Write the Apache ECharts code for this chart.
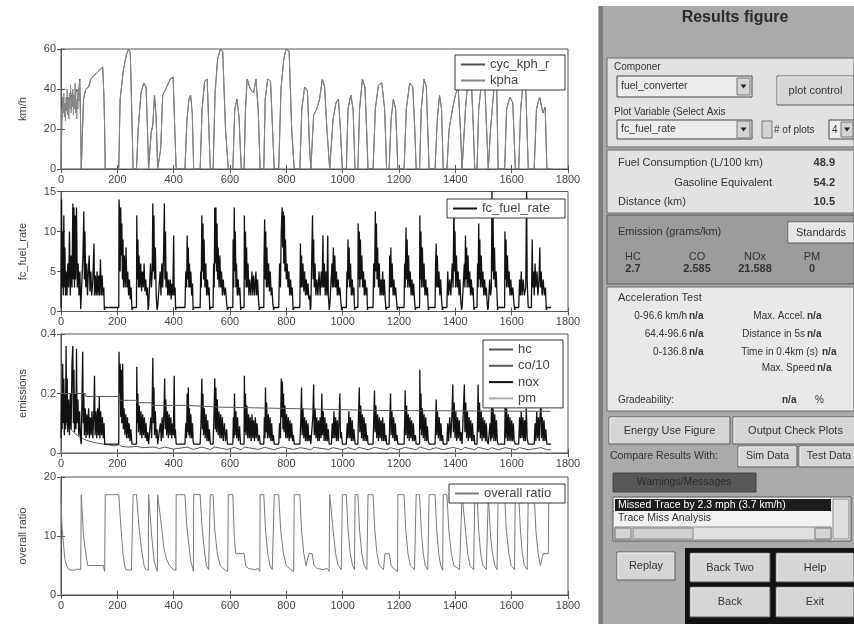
<!DOCTYPE html>
<html><head><meta charset="utf-8">
<script src="https://cdn.jsdelivr.net/npm/echarts@6/dist/echarts.min.js"></script>
<style>html,body{margin:0;padding:0;background:#fff}#c{width:854px;height:624px}</style>
</head><body><div id="c"></div>
<script>
// ---------------- data ----------------
const yNames = ['km/h', 'fc_fuel_rate', 'emissions', 'overall ratio'];
const yMaxes = [60, 15, 0.4, 20];
const yIntervals = [20, 5, 0.2, 10];
const xMax = 1800, xInterval = 200;

const cycKph = [[0,0],[4,28],[10,33],[16,30],[24,36],[32,34],[40,38],[48,35],[56,40],[62,38],[67,45],[70,20],[72,0],
[76,0],[80,35],[88,40],[98,41],[106,45],[118,47],[128,48],[140,50],[148,51],[152,38],[155,20],[157,0],
[205,0],[210,35],[222,50],[232,57],[240,60],[246,58],[251,30],[256,0],
[268,0],[274,20],[284,38],[294,43],[302,41],[307,20],[311,0],
[316,0],[320,18],[326,22],[332,37],[338,25],[343,0],
[350,0],[354,10],[361,37],[372,40],[388,45],[398,46],[404,20],[409,0],
[440,0],[447,24],[454,35],[460,37],[466,28],[471,0],
[494,0],[501,30],[510,44],[519,45],[525,20],[530,0],
[540,0],[547,38],[556,55],[566,60],[574,59],[584,20],[594,0],
[610,0],[617,30],[625,35],[632,26],[640,0],
[650,0],[655,30],[661,45],[672,40],[684,38],[692,45],[700,30],[707,0],
[720,0],[725,35],[734,45],[744,44],[751,20],[757,0],
[773,0],[781,40],[791,55],[799,60],[810,59],[819,20],[828,0],
[848,0],[855,30],[865,41],[875,39],[882,12],[887,0],
[892,0],[897,27],[908,30],[918,35],[928,45],[936,41],[944,20],[954,0],
[960,0],[966,25],[976,33],[985,35],[992,20],[999,0],
[1013,0],[1019,30],[1029,37],[1037,30],[1044,0],
[1054,0],[1060,30],[1070,45],[1079,41],[1085,20],[1090,0],
[1108,0],[1116,30],[1127,42],[1139,43],[1149,30],[1156,0],
[1165,0],[1172,25],[1180,35],[1188,30],[1196,0],
[1218,0],[1226,30],[1238,43],[1249,41],[1256,20],[1261,0],
[1273,0],[1279,30],[1289,45],[1297,41],[1302,20],[1307,0],
[1328,0],[1336,25],[1344,37],[1351,30],[1357,0],
[1370,0],[1378,20],[1390,30],[1400,37],[1410,41],[1418,20],[1424,0],
[1430,0],[1436,30],[1445,45],[1457,44],[1464,20],[1469,0],
[1477,0],[1483,30],[1492,42],[1504,45],[1511,20],[1517,0],
[1520,0],[1525,20],[1532,21],[1540,45],[1547,40],[1552,0],
[1575,0],[1582,30],[1594,36],[1604,33],[1613,0],
[1625,0],[1632,30],[1640,42],[1650,40],[1659,0],
[1680,0],[1688,30],[1699,36],[1711,28],[1719,31],[1725,0],[1740,0]];

// measured speed: noisy at the start, then on top of the trace
const kphaStart = [[0,0],[2,30],[4,25],[6,36],[8,28],[10,38],[12,26],[14,33],[16,24],[18,36],[20,29],[22,40],[24,27],[26,35],[28,25],[30,38],[32,30],[34,42],[36,28],[38,36],[40,31],[42,40],[44,27],[46,37],[48,30],[50,43],[52,28],[54,35],[56,25],[58,38],[60,30],[62,40],[64,34],[66,44],[68,45],[70,20],[72,0]];
const kpha = kphaStart.concat(cycKph.filter(p => p[0] >= 76));

const fcFuelRate = [[0,0.5],[2,14],[4,3],[6,10],[8,2],[10,12],[12,3],[14,8],[16,2],[18,5],[21,2],[24,6],[27,3],[30,10],[33,2],[36,7],[39,3],[42,13.5],[44,4],[46,13],[48,3],[50,12],[52,4],[55,13],[58,3],[61,6],[64,2],[67,5],[70,0.3],[73,0.5],
[76,0.5],[78,7],[81,12.5],[83,4],[85,10],[88,3],[91,6],[94,2],[97,5],[100,7],[103,2.5],[106,5],[109,2],[113,4],[117,8.5],[119,2],[122,4.5],[125,2],[128,5],[131,2],[134,4.5],[137,2],[140,6.5],[143,2],[146,4.5],[149,2],[152,3],[154,0.2],[157,0.5],
[205,0.5],[206,14],[208,12],[210,5],[212,13],[214,7],[216,11],[218,4],[220,9],[222,3],[225,7],[228,3],[231,8],[234,3],[237,5],[240,2],[243,4],[246,1.5],[249,3],[252,0.2],[256,0.5],
[268,0.5],[269,12],[271,4],[273,9],[275,3],[277,7],[280,3],[283,6],[286,2.5],[289,5],[292,3],[295,6],[298,2.5],[301,4],[304,2],[307,3],[309,0.2],[311,0.5],
[316,0.5],[318,6],[321,3],[324,5],[326,13.5],[328,5],[330,12],[332,4],[335,8],[338,2],[341,0.2],[343,0.5],
[350,0.5],[352,5],[355,2],[358,6],[361,3],[364,7],[367,13.5],[369,4],[371,10],[373,3],[376,5],[379,2],[382,4],[385,2],[388,4],[391,1.5],[394,3.5],[397,2],[400,9.5],[402,2],[405,3],[407,0.2],[409,0.5],
[440,0.5],[443,5],[446,3],[448,9.5],[450,4],[452,8],[454,3],[456,6],[458,3],[461,5],[464,2],[467,3.5],[469,0.2],[471,0.5],
[494,0.5],[496,5],[498,3],[500,12],[502,5],[504,11],[506,4],[508,9],[511,3],[514,6],[517,2],[520,4],[523,2],[526,3],[528,0.2],[530,0.5],
[540,0.5],[542,6],[544,3],[546,13],[548,6],[550,13],[552,5],[554,11],[556,4],[558,8],[561,3],[564,7],[567,3],[570,5],[573,2],[576,4],[580,2],[584,3],[588,1],[591,0.2],[594,0.5],
[610,0.5],[611,9],[613,3],[615,13],[617,5],[619,10],[621,3],[623,6],[626,2],[629,4],[632,2],[635,3],[638,0.2],[640,0.5],
[650,0.5],[651,12],[653,4],[655,10],[657,3],[659,8],[661,3],[664,6],[667,2],[670,4],[674,2],[678,5],[681,2],[684,4.5],[688,2],[692,5],[695,2],[698,4],[701,1.5],[704,0.2],[707,0.5],
[720,0.5],[721,7],[723,11.5],[725,4],[727,10],[729,3],[731,8],[734,3],[737,6],[740,2.5],[743,5],[746,2],[749,3],[752,1],[755,0.2],[757,0.5],
[773,0.5],[776,6],[779,3],[782,10],[785,13],[787,8],[789,12.5],[791,6],[793,12],[795,5],[797,9],[800,4],[803,6],[806,3],[809,5],[812,2],[815,4],[818,2],[821,3],[824,0.2],[828,0.5],
[848,0.5],[850,8.5],[852,3],[854,7],[856,3],[859,6],[862,2.5],[865,5],[868,2],[871,4],[874,2],[877,3.5],[880,1.5],[883,2],[885,0.2],[887,0.5],
[892,0.5],[893,12],[895,4],[897,9],[899,3],[902,6],[905,2],[908,4],[912,2],[916,5],[920,2],[924,5],[927,3],[930,9.5],[932,3],[935,6],[938,2],[941,5],[944,2],[947,9.5],[949,2],[951,1],[952,0.2],[954,0.5],
[960,0.5],[962,6],[964,3],[967,8],[969,3],[972,7],[975,3],[978,5],[981,2],[984,4],[987,2],[990,3],[993,1.5],[996,0.2],[999,0.5],
[1013,0.5],[1015,5],[1017,3],[1019,9],[1021,4],[1023,8],[1025,3],[1028,6],[1031,2],[1034,4],[1037,2],[1040,3],[1042,0.2],[1044,0.5],
[1054,0.5],[1055,11],[1057,4],[1059,10],[1061,3],[1063,9],[1065,4],[1068,7],[1071,3],[1074,5],[1077,2],[1080,4],[1083,2],[1086,3],[1088,0.2],[1090,0.5],
[1108,0.5],[1110,6],[1113,3],[1116,12.5],[1118,5],[1120,11],[1122,4],[1124,8],[1127,3],[1130,6],[1133,2],[1136,4],[1139,2],[1142,5],[1145,2],[1148,4],[1151,1.5],[1154,0.2],[1156,0.5],
[1165,0.5],[1167,7],[1169,3],[1171,8],[1173,3],[1176,6],[1179,2],[1182,4],[1185,2],[1188,3],[1191,1.5],[1194,0.2],[1196,0.5],
[1218,0.5],[1220,6],[1222,3],[1225,10.5],[1227,4],[1229,9],[1231,3],[1234,7],[1237,3],[1240,5],[1243,2],[1246,4],[1249,2],[1252,3.5],[1255,1.5],[1258,0.2],[1261,0.5],
[1273,0.5],[1274,12],[1276,4],[1278,10],[1280,3],[1283,8],[1286,3],[1289,6],[1292,2],[1295,4],[1298,2],[1301,3],[1304,0.2],[1307,0.5],
[1328,0.5],[1330,6],[1332,8.5],[1334,3],[1336,7],[1339,3],[1342,5],[1345,2],[1348,4],[1351,1.5],[1354,0.2],[1357,0.5],
[1370,0.5],[1373,5],[1376,2],[1380,4],[1384,2],[1389,6],[1392,3],[1395,14],[1397,5],[1399,10],[1401,3],[1404,7],[1407,3],[1410,5],[1413,2],[1416,4],[1419,1.5],[1422,0.2],[1424,0.5],
[1430,0.5],[1432,6],[1434,3],[1436,9.5],[1438,4],[1440,8],[1442,3],[1445,7],[1448,3],[1451,5],[1454,2],[1457,4],[1460,2],[1463,3],[1466,0.2],[1469,0.5],
[1477,0.5],[1479,6],[1481,3],[1483,11],[1485,4],[1487,9],[1489,3],[1492,7],[1495,3],[1498,5],[1501,2],[1504,4],[1507,2],[1510,3],[1513,1],[1515,0.2],[1517,0.5],
[1520,0.5],[1522,4],[1525,2],[1528,3],[1530,15],[1532,5],[1534,12],[1536,4],[1539,8],[1542,3],[1545,5],[1548,2],[1550,0.2],[1552,0.5],
[1575,0.5],[1576,10],[1578,4],[1580,9],[1582,3],[1585,7],[1588,3],[1591,5],[1594,2],[1597,4],[1600,2],[1604,3],[1608,1],[1611,0.2],[1613,0.5],
[1625,0.5],[1628,4],[1631,2],[1634,5],[1637,2],[1641,4],[1645,2],[1650,3],[1653,15],[1655,4],[1657,2],[1659,0.5],
[1670,0.5],[1673,9],[1675,3],[1678,5],[1680,2],[1683,6],[1686,3],[1690,5],[1693,2],[1697,4],[1700,8],[1702,3],[1705,5],[1708,2],[1712,4],[1716,2],[1720,3],[1723,0.2],[1726,0.5],[1740,0.5]];

const hcEm = [[0,0.13],[10,0.11],[20,0.095],[30,0.085],[40,0.075],[50,0.065],[60,0.058],[70,0.052],[80,0.047],[90,0.043],[100,0.04],[115,0.036],[130,0.033],[150,0.03],[170,0.027],[190,0.024],[206,0.028],[215,0.022],[240,0.02],[270,0.022],[290,0.018],[330,0.02],[350,0.015],
[368,0.02],[400,0.013],[448,0.02],[470,0.012],[500,0.02],[530,0.012],[546,0.02],[590,0.012],[615,0.019],[640,0.011],[651,0.02],[700,0.012],[723,0.019],[757,0.011],[785,0.02],[825,0.012],[850,0.018],[887,0.011],[897,0.019],[950,0.012],[966,0.018],[999,0.011],[1019,0.018],[1044,0.011],[1057,0.019],[1090,0.011],[1113,0.019],[1156,0.011],[1170,0.018],[1196,0.011],[1222,0.019],[1261,0.011],[1274,0.02],[1307,0.011],[1332,0.018],[1357,0.011],[1391,0.019],[1424,0.011],[1432,0.019],[1469,0.011],[1481,0.019],[1517,0.011],[1529,0.018],[1552,0.011],[1577,0.018],[1613,0.011],[1628,0.018],[1659,0.011],[1704,0.018],[1725,0.011],[1740,0.011]];

const co10Em = [[0,0.2],[88,0.2],[88,0.19],[205,0.19],[205,0.177],[270,0.177],[270,0.169],[323,0.169],[323,0.16],[441,0.16],[441,0.154],[572,0.154],[572,0.149],[835,0.149],[835,0.143],[1120,0.143],[1120,0.14],[1738,0.14]];

const noxEm = [[0,0.05],[2,0.2],[4,0.08],[6,0.3],[8,0.1],[10,0.25],[12,0.06],[14,0.2],[16,0.08],[18,0.36],[20,0.1],[22,0.25],[24,0.07],[27,0.18],[30,0.06],[33,0.2],[36,0.08],[39,0.3],[42,0.36],[44,0.1],[46,0.28],[48,0.07],[50,0.2],[53,0.08],[55,0.35],[57,0.1],[60,0.18],[63,0.06],[66,0.14],[69,0.05],[72,0.03],
[76,0.03],[77,0.34],[79,0.1],[81,0.2],[83,0.06],[86,0.15],[89,0.05],[92,0.13],[95,0.06],[98,0.15],[101,0.05],[104,0.12],[107,0.06],[110,0.14],[113,0.05],[116,0.12],[119,0.26],[121,0.06],[124,0.14],[127,0.05],[130,0.15],[133,0.06],[136,0.19],[138,0.05],[141,0.14],[144,0.06],[147,0.12],[150,0.05],[153,0.1],[155,0.03],[157,0.03],
[205,0.03],[206,0.34],[208,0.2],[210,0.3],[212,0.12],[214,0.28],[216,0.1],[219,0.3],[221,0.08],[224,0.15],[227,0.06],[230,0.13],[233,0.05],[236,0.12],[239,0.05],[242,0.1],[245,0.04],[248,0.08],[252,0.03],[256,0.03],
[268,0.03],[269,0.29],[271,0.1],[273,0.2],[275,0.07],[278,0.16],[281,0.06],[284,0.14],[287,0.05],[290,0.13],[293,0.06],[296,0.12],[299,0.05],[302,0.1],[305,0.04],[308,0.07],[311,0.03],
[316,0.03],[319,0.12],[322,0.05],[326,0.32],[328,0.1],[330,0.22],[332,0.06],[335,0.14],[338,0.05],[341,0.08],[343,0.03],
[350,0.03],[353,0.1],[356,0.04],[359,0.12],[362,0.05],[366,0.15],[368,0.25],[370,0.08],[372,0.18],[375,0.06],[378,0.14],[381,0.05],[384,0.13],[387,0.06],[390,0.12],[393,0.05],[396,0.1],[399,0.06],[402,0.26],[404,0.05],[406,0.08],[409,0.03],
[440,0.03],[443,0.1],[446,0.05],[448,0.2],[450,0.07],[452,0.22],[454,0.06],[456,0.15],[458,0.05],[461,0.13],[464,0.05],[467,0.1],[469,0.04],[471,0.03],
[494,0.03],[497,0.1],[500,0.25],[502,0.08],[504,0.2],[506,0.06],[509,0.15],[512,0.05],[515,0.13],[518,0.04],[521,0.11],[524,0.04],[527,0.08],[530,0.03],
[540,0.03],[543,0.12],[546,0.25],[548,0.08],[550,0.22],[552,0.07],[555,0.18],[558,0.06],[561,0.14],[564,0.05],[567,0.13],[570,0.05],[573,0.12],[576,0.04],[580,0.1],[584,0.04],[588,0.08],[591,0.03],[594,0.03],
[610,0.03],[612,0.12],[614,0.05],[616,0.2],[618,0.06],[621,0.14],[624,0.05],[627,0.12],[630,0.04],[634,0.09],[637,0.03],[640,0.03],
[650,0.03],[651,0.26],[653,0.07],[655,0.2],[657,0.06],[660,0.16],[663,0.05],[666,0.13],[669,0.05],[672,0.12],[675,0.04],[678,0.13],[681,0.05],[684,0.11],[687,0.04],[690,0.12],[693,0.05],[696,0.1],[700,0.04],[704,0.06],[707,0.03],
[720,0.03],[722,0.12],[724,0.05],[726,0.22],[728,0.07],[730,0.17],[733,0.05],[736,0.13],[739,0.05],[742,0.12],[745,0.04],[748,0.1],[751,0.04],[754,0.06],[757,0.03],
[773,0.03],[776,0.1],[779,0.05],[782,0.25],[784,0.12],[786,0.24],[788,0.08],[790,0.2],[792,0.07],[795,0.16],[798,0.05],[801,0.13],[804,0.05],[807,0.12],[810,0.04],[813,0.11],[816,0.05],[819,0.1],[822,0.04],[825,0.06],[828,0.03],
[848,0.03],[851,0.1],[854,0.22],[856,0.06],[859,0.15],[862,0.05],[865,0.12],[868,0.04],[871,0.11],[874,0.04],[877,0.1],[880,0.04],[884,0.06],[887,0.03],
[892,0.03],[894,0.12],[897,0.23],[899,0.06],[902,0.15],[905,0.05],[908,0.12],[911,0.04],[914,0.11],[917,0.04],[920,0.12],[923,0.05],[926,0.2],[928,0.06],[931,0.14],[934,0.04],[937,0.12],[940,0.04],[943,0.1],[946,0.04],[949,0.08],[952,0.03],[954,0.03],
[960,0.03],[963,0.1],[966,0.05],[969,0.14],[972,0.05],[975,0.12],[978,0.04],[981,0.11],[984,0.04],[987,0.1],[990,0.2],[992,0.05],[995,0.07],[999,0.03],
[1013,0.03],[1016,0.1],[1019,0.05],[1022,0.14],[1025,0.05],[1028,0.12],[1031,0.04],[1034,0.11],[1037,0.04],[1040,0.08],[1044,0.03],
[1054,0.03],[1056,0.12],[1059,0.22],[1061,0.07],[1064,0.16],[1067,0.05],[1070,0.13],[1073,0.04],[1076,0.12],[1079,0.04],[1082,0.1],[1085,0.04],[1088,0.06],[1090,0.03],
[1108,0.03],[1110,0.1],[1113,0.21],[1115,0.07],[1118,0.16],[1121,0.05],[1124,0.13],[1127,0.04],[1130,0.12],[1133,0.05],[1136,0.11],[1139,0.04],[1142,0.12],[1145,0.04],[1148,0.1],[1151,0.04],[1154,0.06],[1156,0.03],
[1165,0.03],[1167,0.1],[1170,0.2],[1172,0.06],[1175,0.14],[1178,0.05],[1181,0.12],[1184,0.04],[1187,0.1],[1190,0.04],[1193,0.06],[1196,0.03],
[1218,0.03],[1220,0.1],[1222,0.21],[1224,0.06],[1227,0.16],[1230,0.05],[1233,0.13],[1236,0.04],[1239,0.12],[1242,0.05],[1245,0.11],[1248,0.04],[1251,0.1],[1254,0.04],[1258,0.06],[1261,0.03],
[1273,0.03],[1274,0.28],[1276,0.08],[1278,0.2],[1280,0.06],[1283,0.15],[1286,0.05],[1289,0.13],[1292,0.04],[1295,0.12],[1298,0.04],[1301,0.09],[1304,0.04],[1307,0.03],
[1328,0.03],[1330,0.1],[1332,0.18],[1334,0.06],[1337,0.14],[1340,0.05],[1343,0.12],[1346,0.04],[1349,0.1],[1352,0.04],[1355,0.06],[1357,0.03],
[1370,0.03],[1373,0.1],[1376,0.04],[1380,0.12],[1384,0.05],[1388,0.13],[1391,0.23],[1393,0.07],[1396,0.17],[1399,0.05],[1402,0.14],[1405,0.04],[1408,0.12],[1411,0.05],[1414,0.11],[1417,0.04],[1420,0.07],[1424,0.03],
[1430,0.03],[1432,0.23],[1434,0.07],[1437,0.17],[1440,0.05],[1443,0.14],[1446,0.04],[1449,0.12],[1452,0.05],[1455,0.11],[1458,0.04],[1461,0.1],[1464,0.04],[1467,0.06],[1469,0.03],
[1477,0.03],[1479,0.12],[1481,0.23],[1483,0.07],[1486,0.17],[1489,0.05],[1492,0.14],[1495,0.04],[1498,0.12],[1501,0.05],[1504,0.11],[1507,0.04],[1510,0.1],[1513,0.04],[1517,0.03],
[1520,0.03],[1523,0.1],[1526,0.04],[1529,0.18],[1531,0.05],[1534,0.15],[1537,0.04],[1540,0.13],[1543,0.04],[1546,0.11],[1549,0.04],[1552,0.03],
[1575,0.03],[1577,0.18],[1579,0.05],[1582,0.15],[1585,0.04],[1588,0.13],[1591,0.04],[1594,0.12],[1597,0.04],[1600,0.11],[1603,0.04],[1606,0.1],[1609,0.04],[1613,0.03],
[1625,0.03],[1628,0.12],[1631,0.05],[1634,0.14],[1637,0.05],[1640,0.12],[1643,0.04],[1646,0.11],[1649,0.04],[1652,0.15],[1655,0.05],[1659,0.03],
[1680,0.03],[1683,0.1],[1686,0.04],[1689,0.14],[1692,0.05],[1695,0.12],[1698,0.04],[1701,0.13],[1704,0.17],[1706,0.05],[1709,0.12],[1712,0.04],[1715,0.11],[1718,0.04],[1721,0.08],[1725,0.03],[1740,0.03]];

const pmEm = [[0,0],[1740,0]];

const overallRatio = [[0,17],[3,12],[8,9],[14,6],[20,5],[28,4.3],[45,4.2],[60,4.4],[70,4.3],[72,17],[76,17],[80,10],[88,7],[95,5],[150,5],[155,4],[157,17],
[205,17],[212,12],[220,7],[226,5],[230,4.3],[250,4.2],[256,17],
[268,17],[276,12],[285,8],[295,5],[302,4.3],[310,4.2],[311,17],
[316,17],[322,10],[330,6],[338,4.5],[342,4],[343,17],
[350,17],[356,12],[365,8],[375,6],[385,5],[400,4.3],[408,4.2],[409,17],
[440,17],[446,12],[455,8],[462,5.5],[468,4.5],[470,4],[471,17],
[494,17],[500,12],[508,8],[516,5],[524,4.3],[529,4],[530,17],
[540,17],[546,11],[555,7],[565,5],[580,4.3],[592,4],[594,17],
[610,17],[615,10],[620,7],[640,7],[650,7],[656,5],[665,4.5],[690,4.3],[700,4.5],[706,4],[707,17],
[720,17],[726,11],[734,7],[742,5],[750,4.3],[756,4],[757,17],
[773,17],[780,11],[790,7],[800,5],[815,4.3],[826,4],[828,17],
[848,17],[854,11],[862,7],[870,5],[880,7],[892,7],[898,5],[910,4.5],[930,4.3],[945,4.5],[952,4],[954,17],
[960,17],[966,11],[975,7],[984,5],[995,4.3],[998,4],[999,17],
[1013,17],[1019,11],[1027,7],[1035,5],[1042,4.3],[1044,17],
[1054,17],[1060,11],[1068,7],[1076,5],[1086,4.3],[1089,4],[1090,17],
[1108,17],[1114,11],[1122,7],[1130,5],[1145,4.3],[1150,7],[1165,7],[1172,5],[1185,4.3],[1195,4],[1196,17],
[1218,17],[1224,11],[1232,7],[1240,5],[1255,4.3],[1260,4],[1261,17],
[1273,17],[1279,11],[1286,7],[1293,5],[1302,4.3],[1306,4],[1307,17],
[1328,17],[1334,11],[1341,7],[1348,5],[1355,4.2],[1357,17],
[1370,17],[1377,11],[1386,7],[1395,5],[1415,4.3],[1422,4],[1424,17],
[1430,17],[1436,11],[1444,7],[1452,5],[1465,4.3],[1468,4],[1469,17],
[1477,17],[1483,11],[1490,7],[1498,5],[1510,4.3],[1516,4],[1517,17],
[1520,17],[1525,10],[1532,7],[1540,5],[1548,4.3],[1551,4],[1552,17],
[1575,17],[1581,11],[1590,7],[1598,5],[1610,4.3],[1613,17],
[1625,17],[1631,11],[1638,7],[1645,5],[1655,4.3],[1659,17],
[1680,17],[1686,11],[1694,7],[1702,5],[1712,7],[1730,7],[1732,17],[1740,17]];

// GUI panel texts / values
const fuelConsumption = '48.9', gasolineEquiv = '54.2', distanceKm = '10.5';
const emHeaders = ['HC', 'CO', 'NOx', 'PM'];
const emValues = ['2.7', '2.585', '21.588', '0'];

// ---------------- layout ----------------
const FONT = 'Liberation Sans, Arial, sans-serif';
const gridTops = [49, 191.5, 334, 477];
const gridHeights = [120, 120, 119, 118];
const GL = 61, GW = 507;

const grids = [], xAxes = [], yAxes = [];
for (let i = 0; i < 4; i++) {
  grids.push({left: GL, top: gridTops[i], width: GW, height: gridHeights[i], show: true, borderColor: '#555', borderWidth: 1, backgroundColor: '#fff'});
  const axLine = {show: true, lineStyle: {color: '#555', width: 1}};
  const tick = {show: true, inside: true, length: 4, lineStyle: {color: '#555'}};
  xAxes.push({type: 'value', gridIndex: i, min: 0, max: xMax, interval: xInterval, position: 'bottom',
    axisLine: axLine, axisTick: tick, splitLine: {show: false},
    axisLabel: {color: '#444', fontSize: 11, fontFamily: FONT, margin: 5, formatter: v => String(v)}});
  xAxes.push({type: 'value', gridIndex: i, min: 0, max: xMax, interval: xInterval, position: 'top',
    axisLine: axLine, axisTick: tick, splitLine: {show: false}, axisLabel: {show: false}});
  yAxes.push({type: 'value', gridIndex: i, min: 0, max: yMaxes[i], interval: yIntervals[i], position: 'left',
    name: yNames[i], nameLocation: 'middle', nameGap: 33, nameRotate: 90,
    nameTextStyle: {color: '#444', fontSize: 11, fontFamily: FONT},
    axisLine: axLine, axisTick: tick, splitLine: {show: false},
    axisLabel: {color: '#444', fontSize: 11, fontFamily: FONT, margin: 5, formatter: v => String(v)}});
  yAxes.push({type: 'value', gridIndex: i, min: 0, max: yMaxes[i], interval: yIntervals[i], position: 'right',
    axisLine: axLine, axisTick: tick, splitLine: {show: false}, axisLabel: {show: false}});
}

function line(name, data, gi, color, w, z) {
  return {type: 'line', name, data, xAxisIndex: gi * 2, yAxisIndex: gi * 2, showSymbol: false, symbol: 'none',
    lineStyle: {color, width: w || 1}, itemStyle: {color}, z: z || 2, animation: false};
}

const series = [
  line('cyc_kph_r', cycKph, 0, '#555', 1),
  line('kpha', kpha, 0, '#858585', 1, 3),
  line('fc_fuel_rate', fcFuelRate, 1, '#111', 1.3),
  line('hc', hcEm, 2, '#555', 1),
  line('co/10', co10Em, 2, '#5a5a5a', 1, 3),
  line('nox', noxEm, 2, '#111', 1.3),
  line('pm', pmEm, 2, '#aaa', 1),
  line('overall ratio', overallRatio, 3, '#7a7a7a', 1)
];

function lg(data, left, top, tw, gap) {
  return {data, left, top, orient: 'vertical', selectedMode: false, icon: 'rect', itemWidth: 24, itemHeight: 2,
    itemGap: gap, padding: [2, 5, 2, 6], borderColor: '#333', borderWidth: 1, backgroundColor: '#fff', z: 10,
    textStyle: {color: '#444', fontSize: 13, lineHeight: 15, fontFamily: FONT, width: tw, overflow: 'truncate', ellipsis: ''}};
}
const legends = [
  lg(['cyc_kph_r', 'kpha'], 455, 55, 70, 1),
  lg(['fc_fuel_rate'], 447, 199, 78, 1),
  lg(['hc', 'co/10', 'nox', 'pm'], 483, 340, 40, 1.3),
  lg(['overall ratio'], 449, 484, 76, 1)
];

// ---------------- GUI panel (graphics) ----------------
const G = [];
function R(x, y, w, h, fill, stroke, lw) {
  G.push({type: 'rect', shape: {x, y, width: w, height: h}, style: {fill: fill || 'none', stroke: stroke || null, lineWidth: lw || 1}, silent: true});
}
function L(x1, y1, x2, y2, c, w) {
  G.push({type: 'line', shape: {x1, y1, x2, y2}, style: {stroke: c, lineWidth: w || 1}, silent: true});
}
function T(x, y, s, o) {
  o = o || {};
  G.push({type: 'text', x, y, silent: true, style: {text: s, fill: o.c || '#333',
    font: (o.b ? 'bold ' : '') + (o.s || 11) + 'px ' + FONT, textAlign: o.a || 'left', textVerticalAlign: 'middle'}});
}
function B(x, y, w, h, label, o) {
  R(x, y, w, h, (o && o.fill) || '#d6d6d6', '#5a5a5a');
  L(x + 1, y + 1, x + w - 1, y + 1, '#f4f4f4');
  L(x + 1, y + 1, x + 1, y + h - 1, '#f4f4f4');
  T(x + w / 2, y + h / 2, label, {a: 'center', s: (o && o.s) || 11});
}
function arrowBtn(x, y, w, h) {
  R(x, y, w, h, '#d4d4d4', '#777');
  G.push({type: 'polygon', shape: {points: [[x + w / 2 - 3, y + h / 2 - 2], [x + w / 2 + 3, y + h / 2 - 2], [x + w / 2, y + h / 2 + 2]]}, style: {fill: '#222'}, silent: true});
}

R(598, 6, 256, 618, '#aaaaaa');
R(599, 6, 4, 618, '#7c7c7c');
T(735, 18, 'Results figure', {b: true, s: 16, a: 'center', c: '#2a2a2a'});
// box A
R(607, 58, 247, 89, '#e2e2e2', '#6a6a6a');
T(614, 67, 'Componer', {s: 10});
R(617, 76, 135, 21, '#ededed', '#444');
T(621, 86.5, 'fuel_converter', {s: 10.5});
arrowBtn(737, 78, 13, 17);
B(777, 76, 77, 29, 'plot control');
T(614, 112, 'Plot Variable (Select Axis', {s: 10});
R(617, 120, 135, 19, '#ededed', '#444');
T(621, 129.5, 'fc_fuel_rate', {s: 10.5});
arrowBtn(737, 121, 13, 17);
R(762, 121, 10, 17, '#d4d4d4', '#777');
T(774, 130, '# of plots', {s: 10});
R(829, 120, 25, 19, '#ededed', '#444');
T(832, 130, '4', {s: 10});
arrowBtn(841, 122, 12, 15);
// box B
R(607, 150, 247, 63, '#e2e2e2', '#6a6a6a');
T(618, 163, 'Fuel Consumption (L/100 km)');
T(835, 163, fuelConsumption, {b: true, a: 'right'});
T(772, 183, 'Gasoline Equivalent', {a: 'right'});
T(835, 183, gasolineEquiv, {b: true, a: 'right'});
T(618, 202, 'Distance (km)');
T(835, 202, distanceKm, {b: true, a: 'right'});
// box C
R(607, 215, 247, 69, '#9c9c9c', '#5a5a5a');
T(618, 232, 'Emission (grams/km)');
B(788, 222, 66, 21, 'Standards', {fill: '#e6e6e6'});
const emX = [633, 697, 755, 812];
for (let i = 0; i < 4; i++) {
  T(emX[i], 257, emHeaders[i], {a: 'center'});
  T(emX[i], 269, emValues[i], {a: 'center', b: true});
}
// box D
R(607, 287, 247, 124, '#e9e9e9', '#6a6a6a');
T(618, 298, 'Acceleration Test');
T(687, 316, '0-96.6 km/h', {a: 'right', s: 10});
T(689, 316, 'n/a', {b: true, s: 10});
T(805, 316, 'Max. Accel.', {a: 'right', s: 10});
T(807, 316, 'n/a', {b: true, s: 10});
T(687, 334, '64.4-96.6', {a: 'right', s: 10});
T(689, 334, 'n/a', {b: true, s: 10});
T(805, 334, 'Distance in 5s', {a: 'right', s: 10});
T(807, 334, 'n/a', {b: true, s: 10});
T(687, 352, '0-136.8', {a: 'right', s: 10});
T(689, 352, 'n/a', {b: true, s: 10});
T(818, 352, 'Time in 0.4km (s)', {a: 'right', s: 10});
T(822, 352, 'n/a', {b: true, s: 10});
T(815, 368, 'Max. Speed', {a: 'right', s: 10});
T(817, 368, 'n/a', {b: true, s: 10});
T(618, 400, 'Gradeability:', {s: 10});
T(782, 400, 'n/a', {b: true, s: 10});
T(815, 400, '%', {s: 10});
// buttons
B(609, 417, 121, 27, 'Energy Use Figure');
B(733, 417, 125, 27, 'Output Check Plots');
T(610, 456, 'Compare Results With:', {s: 10.5});
B(738, 446, 59, 21, 'Sim Data', {s: 10.5});
B(799, 446, 60, 21, 'Test Data', {s: 10.5});
R(613, 473, 143, 19, '#585858', '#444');
T(684, 482.5, 'Warnings/Messages', {a: 'center', c: '#2a2a2a', s: 10.5});
R(613, 497, 238, 44, '#f2f2f2', '#555');
R(615, 499, 216, 12, '#1c1c1c');
T(618, 505, 'Missed Trace by 2.3 mph (3.7 km/h)', {c: '#fff', s: 10.5});
T(618, 518, 'Trace Miss Analysis', {s: 10.5});
R(833, 499, 16, 40, '#dedede', '#888');
R(615, 527, 216, 13, '#e0e0e0', '#888');
R(615, 528, 16, 11, '#d4d4d4', '#777');
R(633, 528, 60, 11, '#d0d0d0', '#888');
R(815, 528, 16, 11, '#d4d4d4', '#777');
B(617, 552, 58, 28, 'Replay');
R(685, 548, 169, 76, '#111');
B(690, 553, 80, 29, 'Back Two');
B(776, 553, 78, 29, 'Help');
B(690, 587, 80, 30, 'Back');
B(776, 587, 78, 30, 'Exit');

const chart = echarts.init(document.getElementById('c'), null, {renderer: 'canvas'});
chart.setOption({
  animation: false,
  backgroundColor: '#fff',
  grid: grids, xAxis: xAxes, yAxis: yAxes, series, legend: legends,
  graphic: {elements: G}
});
</script></body></html>
